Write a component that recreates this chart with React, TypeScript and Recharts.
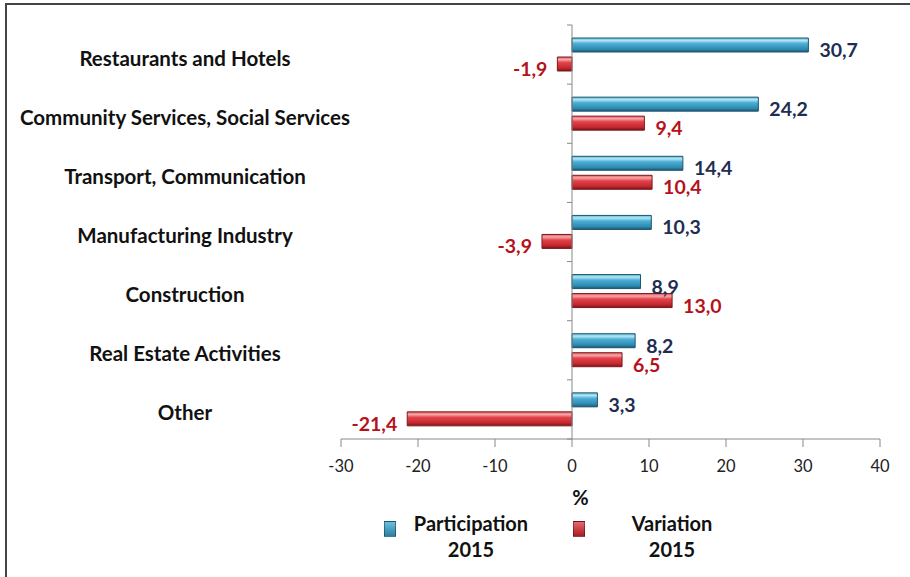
import { BarChart, Bar, XAxis, YAxis, ReferenceLine, LabelList, Legend } from "recharts";

const categories = [
  "Restaurants and Hotels",
  "Community Services, Social Services",
  "Transport, Communication",
  "Manufacturing Industry",
  "Construction",
  "Real Estate Activities",
  "Other",
];
const participation2015 = [30.7, 24.2, 14.4, 10.3, 8.9, 8.2, 3.3];
const variation2015 = [-1.9, 9.4, 10.4, -3.9, 13.0, 6.5, -21.4];
const xTicks = [-30, -20, -10, 0, 10, 20, 30, 40];

const data = categories.map((name, i) => ({
  name,
  participation: participation2015[i],
  variation: variation2015[i],
}));

const W = 910;
const H = 577;
const margin = { top: 25, right: 30, bottom: 88, left: 0 };
const yAxisWidth = 341;
const font = "Lato, 'Open Sans', sans-serif";

// where the zero line sits, used for the little category tick marks
const plotLeft = margin.left + yAxisWidth;
const plotW = W - plotLeft - margin.right;
const zeroX = plotLeft + ((0 - xTicks[0]) / (xTicks[xTicks.length - 1] - xTicks[0])) * plotW;
const band = (H - margin.top - margin.bottom - 50) / categories.length;

const fmt = (v: number) => v.toFixed(1).replace(".", ",");

function CategoryTick(props: any) {
  const { y, payload, index } = props;
  return (
    <g>
      <text
        x={185}
        y={y}
        dy={11}
        textAnchor="middle"
        fontFamily={font}
        fontWeight={700}
        fontSize={20.5}
        fill="#111"
      >
        {payload.value}
      </text>
      <line x1={zeroX - 5} x2={zeroX} y1={y - band / 2} y2={y - band / 2} stroke="#888" />
      {index === categories.length - 1 && (
        <line x1={zeroX - 5} x2={zeroX} y1={y + band / 2} y2={y + band / 2} stroke="#888" />
      )}
    </g>
  );
}

function makeLabel(color: string) {
  return (props: any) => {
    const { x, y, width, height, value } = props;
    const end = x + width;
    const neg = value < 0;
    return (
      <text
        x={neg ? end - 10 : end + 11}
        y={y + height / 2}
        dy={12}
        textAnchor={neg ? "end" : "start"}
        fontFamily={font}
        fontWeight={700}
        fontSize={19.5}
        fill={color}
      >
        {fmt(value)}
      </text>
    );
  };
}

function LegendContent() {
  const item = (left: number, iconFill: string, title: string, textLeft: number) => (
    <div style={{ position: "absolute", left, top: 0 }}>
      <div
        style={{
          position: "absolute",
          left: 0,
          top: 11,
          width: 10,
          height: 14,
          background: iconFill,
          border: "1px solid rgba(0,0,0,0.35)",
        }}
      />
      <div
        style={{
          position: "absolute",
          left: textLeft,
          top: 0,
          width: 150,
          textAlign: "center",
          fontFamily: font,
          fontWeight: 700,
          fontSize: 20,
          lineHeight: "26px",
          color: "#111",
        }}
      >
        {title}
        <br />
        2015
      </div>
    </div>
  );
  return (
    <div style={{ position: "relative", width: 910, height: 60 }}>
      {item(384, "linear-gradient(#6cc0de, #2a7fa3)", "Participation", 12)}
      {item(573, "linear-gradient(#e8676c, #a81d24)", "Variation", 24)}
    </div>
  );
}

export default function App() {
  return (
    <div style={{ position: "fixed", left: 0, top: 0, width: W, height: H, background: "#fff" }}>
      <div
        style={{
          position: "absolute",
          left: 5,
          top: 3,
          right: 0,
          bottom: 0,
          borderLeft: "2px solid #444",
          borderTop: "2px solid #444",
        }}
      />
      <BarChart
        width={W}
        height={H}
        data={data}
        layout="vertical"
        margin={margin}
        barSize={14}
        barGap={5}
      >
        <defs>
          <linearGradient id="blueGrad" x1="0" y1="0" x2="0" y2="1">
            <stop offset="0" stopColor="#5fb6d6" />
            <stop offset="0.18" stopColor="#b2e6f6" />
            <stop offset="0.4" stopColor="#4caed3" />
            <stop offset="0.8" stopColor="#2e8ab0" />
            <stop offset="1" stopColor="#1b5872" />
          </linearGradient>
          <linearGradient id="redGrad" x1="0" y1="0" x2="0" y2="1">
            <stop offset="0" stopColor="#e0585d" />
            <stop offset="0.18" stopColor="#f8a8a8" />
            <stop offset="0.4" stopColor="#e2434a" />
            <stop offset="0.8" stopColor="#c4262d" />
            <stop offset="1" stopColor="#7a1217" />
          </linearGradient>
        </defs>
        <XAxis
          type="number"
          domain={[xTicks[0], xTicks[xTicks.length - 1]]}
          ticks={xTicks}
          height={50}
          axisLine={{ stroke: "#888" }}
          tickLine={{ stroke: "#888" }}
          tickSize={8}
          tickMargin={13}
          tick={{ fill: "#222", fontSize: 16.5, fontFamily: font }}
          label={{
            content: (p: any) => (
              <text
                x={p.viewBox.x + p.viewBox.width / 2 - 30}
                y={p.viewBox.y + p.viewBox.height + 16}
                textAnchor="middle"
                fontFamily={font}
                fontWeight={700}
                fontSize={20}
                fill="#111"
              >
                %
              </text>
            ),
          }}
        />
        <YAxis
          type="category"
          dataKey="name"
          width={yAxisWidth}
          axisLine={false}
          tickLine={false}
          tick={<CategoryTick />}
          interval={0}
        />
        <ReferenceLine x={0} stroke="#888" />
        <Legend
          layout="horizontal"
          verticalAlign="middle"
          align="center"
          wrapperStyle={{ top: 510, left: 0, width: 910 }}
          content={<LegendContent />}
        />
        <Bar
          dataKey="participation"
          name="Participation 2015"
          fill="url(#blueGrad)"
          stroke="#1d5670"
          strokeWidth={1}
          isAnimationActive={false}
        >
          <LabelList dataKey="participation" content={makeLabel("#1f2d52")} />
        </Bar>
        <Bar
          dataKey="variation"
          name="Variation 2015"
          fill="url(#redGrad)"
          stroke="#7a1a1e"
          strokeWidth={1}
          isAnimationActive={false}
        >
          <LabelList dataKey="variation" content={makeLabel("#b5121b")} />
        </Bar>
      </BarChart>
    </div>
  );
}
